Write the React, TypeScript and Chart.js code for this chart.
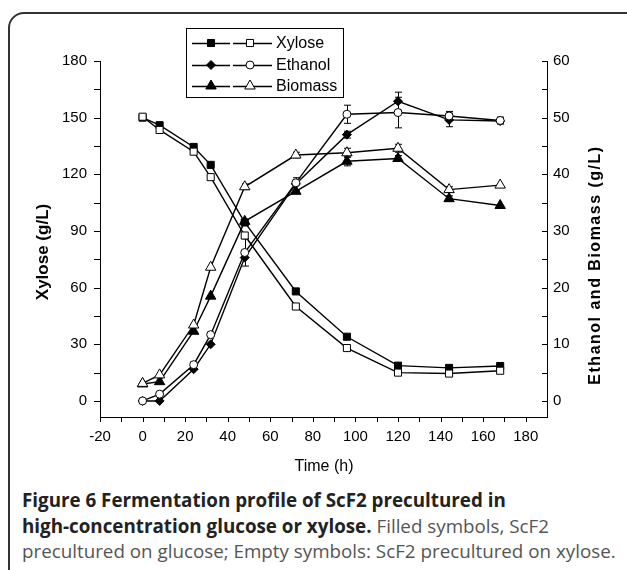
import React, { useEffect, useRef } from 'react';
import { Chart, registerables } from 'chart.js';
Chart.register(...registerables);

// ---- data ----
const times = [0, 8, 24, 32, 48, 72, 96, 120, 144, 168];
const xyloseGlc = [150, 146, 134.5, 125, 94.5, 58, 34, 18.7, 17.5, 18.5];
const xyloseXyl = [150.5, 143.5, 132, 118.5, 87.6, 50, 28, 15, 14.5, 16];
const ethanolGlc = [0, 0, 5.6, 10, 25.3, 38.3, 47, 52.9, 49.6, 49.4];
const ethanolXyl = [0, 1.2, 6.4, 11.7, 26.2, 38.5, 50.6, 50.9, 50.3, 49.5];
const biomassGlc = [3, 3.4, 12.3, 18.5, 31.7, 37.0, 42.3, 42.8, 35.7, 34.5];
const biomassXyl = [3.1, 4.6, 13.4, 23.6, 37.8, 43.4, 43.8, 44.6, 37.3, 38.1];

const xyloseGlcErr = [0, 0, 0, 0, 0, 0, 0, 0, 0, 0];
const xyloseXylErr = [0, 0, 0, 0, 0, 0, 0, 0, 0, 0];
const ethanolGlcErr = [0, 0, 0, 0, 0, 1.1, 0.6, 1.6, 1.2, 0.5];
const ethanolXylErr = [0, 0, 0, 0, 2.4, 0, 1.6, 2.7, 0.8, 0.6];
const biomassGlcErr = [0, 0, 0, 0, 0, 0, 0.8, 0.5, 0.5, 0];
const biomassXylErr = [0, 0, 0, 0, 0.5, 0.5, 0.8, 0.7, 0.5, 0];

const xTickLabels = [-20, 0, 20, 40, 60, 80, 100, 120, 140, 160, 180];
const xMinorTicks = [-20, -10, 0, 10, 20, 30, 40, 50, 60, 70, 80, 90, 100, 110, 120, 130, 140, 150, 160, 170, 180];
const leftTickLabels = [0, 30, 60, 90, 120, 150, 180];
const leftMinorTicks = [0, 15, 30, 45, 60, 75, 90, 105, 120, 135, 150, 165, 180];
const rightTickLabels = [0, 10, 20, 30, 40, 50, 60];
const rightMinorTicks = [0, 5, 10, 15, 20, 25, 30, 35, 40, 45, 50, 55, 60];

const legendNames = ['Xylose', 'Ethanol', 'Biomass'];

const FONT = '"Liberation Sans", Arial, sans-serif';

function pts(vals: number[]) {
  return times.map((t, i) => ({ x: t, y: vals[i] }));
}

function drawMarker(ctx: CanvasRenderingContext2D, style: string, r: number, x: number, y: number, fill: string) {
  ctx.save();
  ctx.fillStyle = fill;
  ctx.strokeStyle = '#000';
  ctx.lineWidth = 1;
  ctx.beginPath();
  if (style === 'rect') {
    const s = Math.SQRT1_2 * r;
    ctx.rect(x - s, y - s, 2 * s, 2 * s);
  } else if (style === 'rectRot') {
    ctx.moveTo(x - r, y);
    ctx.lineTo(x, y - r);
    ctx.lineTo(x + r, y);
    ctx.lineTo(x, y + r);
    ctx.closePath();
  } else if (style === 'circle') {
    ctx.arc(x, y, r, 0, Math.PI * 2);
  } else if (style === 'triangle') {
    ctx.moveTo(x, y - r);
    ctx.lineTo(x + r * Math.sin(Math.PI / 3), y + r * 0.5);
    ctx.lineTo(x - r * Math.sin(Math.PI / 3), y + r * 0.5);
    ctx.closePath();
  }
  ctx.fill();
  ctx.stroke();
  ctx.restore();
}

const customPlugin = {
  id: 'custom',
  beforeDatasetsDraw(chart: any) {
    const ctx = chart.ctx as CanvasRenderingContext2D;
    const xs = chart.scales.x;
    ctx.save();
    ctx.strokeStyle = '#000';
    ctx.lineWidth = 1;
    chart.data.datasets.forEach((ds: any) => {
      const errs: number[] = ds.errors || [];
      const ys = chart.scales[ds.yAxisID];
      ds.data.forEach((p: any, j: number) => {
        const e = errs[j];
        if (!e || p.y == null) return;
        const px = Math.round(xs.getPixelForValue(p.x)) + 0.5;
        const top = ys.getPixelForValue(p.y + e);
        const bot = ys.getPixelForValue(p.y - e);
        ctx.beginPath();
        ctx.moveTo(px, top);
        ctx.lineTo(px, bot);
        ctx.moveTo(px - 3.5, top);
        ctx.lineTo(px + 3.5, top);
        ctx.moveTo(px - 3.5, bot);
        ctx.lineTo(px + 3.5, bot);
        ctx.stroke();
      });
    });
    ctx.restore();
  },
  afterDraw(chart: any) {
    const ctx = chart.ctx as CanvasRenderingContext2D;
    const { left, right, bottom } = chart.chartArea;
    const xs = chart.scales.x;
    const yl = chart.scales.y;
    const yr = chart.scales.y1;
    ctx.save();
    ctx.strokeStyle = '#000';
    ctx.lineWidth = 1;
    ctx.beginPath();
    xMinorTicks.forEach((v) => {
      const px = Math.round(xs.getPixelForValue(v)) + 0.5;
      ctx.moveTo(px, bottom);
      ctx.lineTo(px, bottom + 5);
    });
    leftMinorTicks.forEach((v) => {
      const py = Math.round(yl.getPixelForValue(v)) + 0.5;
      ctx.moveTo(left - 6, py);
      ctx.lineTo(left, py);
    });
    rightMinorTicks.forEach((v) => {
      const py = Math.round(yr.getPixelForValue(v)) + 0.5;
      ctx.moveTo(right - 5, py);
      ctx.lineTo(right, py);
    });
    ctx.stroke();

    // axis titles
    ctx.fillStyle = '#000';
    ctx.textAlign = 'center';
    ctx.textBaseline = 'middle';
    ctx.font = 'bold 17px ' + FONT;
    ctx.save();
    ctx.translate(43, 252);
    ctx.rotate(-Math.PI / 2);
    ctx.fillText('Xylose (g/L)', 0, 0);
    ctx.restore();
    ctx.save();
    ctx.translate(596, 265);
    ctx.rotate(-Math.PI / 2);
    ctx.font = 'bold 16px ' + FONT;
    (ctx as any).letterSpacing = '1.5px';
    ctx.fillText('Ethanol and Biomass (g/L)', 0, 0);
    ctx.restore();
    ctx.font = '16px ' + FONT;
    ctx.fillText('Time (h)', 324, 467);

    // legend
    ctx.lineWidth = 1;
    ctx.strokeRect(186.5, 28.5, 157, 69);
    const rowsY = [43, 65, 86];
    const styles = [
      ['rect', 5, 'rect', 5],
      ['rectRot', 4.5, 'circle', 4],
      ['triangle', 6, 'triangle', 6],
    ];
    rowsY.forEach((ry, i) => {
      const st = styles[i] as any[];
      ctx.lineWidth = 1.5;
      ctx.beginPath();
      ctx.moveTo(192, ry + 0.5);
      ctx.lineTo(230, ry + 0.5);
      ctx.moveTo(233, ry + 0.5);
      ctx.lineTo(272, ry + 0.5);
      ctx.stroke();
      drawMarker(ctx, st[0], st[1], 211, ry, '#000');
      drawMarker(ctx, st[2], st[3], 250, ry, '#fff');
      ctx.fillStyle = '#000';
      ctx.textAlign = 'left';
      ctx.font = '16px ' + FONT;
      ctx.fillText(legendNames[i], 276, ry + 1);
    });
    ctx.restore();
  },
};

export default function App() {
  const ref = useRef<HTMLCanvasElement | null>(null);
  useEffect(() => {
    if (!ref.current) return;
    const line = (label: string, vals: number[], errs: number[], axis: string, style: string, r: number, filled: boolean, order: number) => ({
      label,
      data: pts(vals),
      errors: errs,
      yAxisID: axis,
      borderColor: '#000',
      borderWidth: 1.4,
      pointStyle: style,
      pointRadius: r,
      pointBorderWidth: 1,
      pointBackgroundColor: filled ? '#000' : '#fff',
      pointBorderColor: '#000',
      backgroundColor: filled ? '#000' : '#fff',
      fill: false,
      tension: 0,
      order,
    });
    const chart = new Chart(ref.current, {
      type: 'line',
      data: {
        datasets: [
          line('Xylose glucose', xyloseGlc, xyloseGlcErr, 'y', 'rect', 5, true, 2),
          line('Xylose xylose', xyloseXyl, xyloseXylErr, 'y', 'rect', 5, false, 1),
          line('Ethanol glucose', ethanolGlc, ethanolGlcErr, 'y1', 'rectRot', 4.5, true, 2),
          line('Ethanol xylose', ethanolXyl, ethanolXylErr, 'y1', 'circle', 4, false, 1),
          line('Biomass glucose', biomassGlc, biomassGlcErr, 'y1', 'triangle', 6, true, 2),
          line('Biomass xylose', biomassXyl, biomassXylErr, 'y1', 'triangle', 6, false, 1),
        ] as any,
      },
      options: {
        animation: false,
        responsive: false,
        maintainAspectRatio: false,
        layout: { padding: { top: 61, left: 0, right: 0, bottom: 0 } },
        plugins: { legend: { display: false }, tooltip: { enabled: false } },
        scales: {
          x: {
            type: 'linear',
            min: -20,
            max: 190,
            afterFit: (s: any) => { s.height = 63; },
            afterBuildTicks: (s: any) => { s.ticks = xTickLabels.map((v) => ({ value: v })); },
            grid: { display: false, drawTicks: false },
            border: { display: true, color: '#000', width: 1 },
            ticks: { color: '#000', font: { family: FONT, size: 15 }, padding: 11, maxRotation: 0, autoSkip: false },
          },
          y: {
            type: 'linear',
            position: 'left',
            min: -8.5,
            max: 180,
            afterFit: (s: any) => { s.width = 100; },
            afterBuildTicks: (s: any) => { s.ticks = leftTickLabels.map((v) => ({ value: v })); },
            grid: { display: false, drawTicks: false },
            border: { display: true, color: '#000', width: 1 },
            ticks: { color: '#000', font: { family: FONT, size: 15 }, padding: 13, autoSkip: false },
          },
          y1: {
            type: 'linear',
            position: 'right',
            min: -8.5 / 3,
            max: 60,
            afterFit: (s: any) => { s.width = 80; },
            afterBuildTicks: (s: any) => { s.ticks = rightTickLabels.map((v) => ({ value: v })); },
            grid: { display: false, drawTicks: false },
            border: { display: true, color: '#000', width: 1 },
            ticks: { color: '#000', font: { family: FONT, size: 15 }, padding: 6, autoSkip: false },
          },
        },
      } as any,
      plugins: [customPlugin],
    });
    return () => chart.destroy();
  }, []);

  return (
    <div style={{ position: 'absolute', left: 0, top: 0, width: 627, height: 570, overflow: 'hidden', background: '#fff' }}>
      <div
        style={{
          position: 'absolute',
          left: 8,
          top: 12,
          width: 700,
          height: 640,
          border: '2px solid #333',
          borderRadius: 16,
          boxSizing: 'border-box',
        }}
      />
      <canvas ref={ref} width={627} height={480} style={{ position: 'absolute', left: 0, top: 0, width: 627, height: 480 }} />
      <div
        style={{
          position: 'absolute',
          left: 22,
          top: 488,
          fontFamily: '"Open Sans", sans-serif',
          fontSize: 18.8,
          lineHeight: '25.5px',
          color: '#555',
          whiteSpace: 'nowrap',
        }}
      >
        <b style={{ color: '#222' }}>
          Figure 6 Fermentation profile of ScF2 precultured in
          <br />
          high-concentration glucose or xylose.
        </b>{' '}
        Filled symbols, ScF2
        <br />
        precultured on glucose; Empty symbols: ScF2 precultured on xylose.
      </div>
    </div>
  );
}
